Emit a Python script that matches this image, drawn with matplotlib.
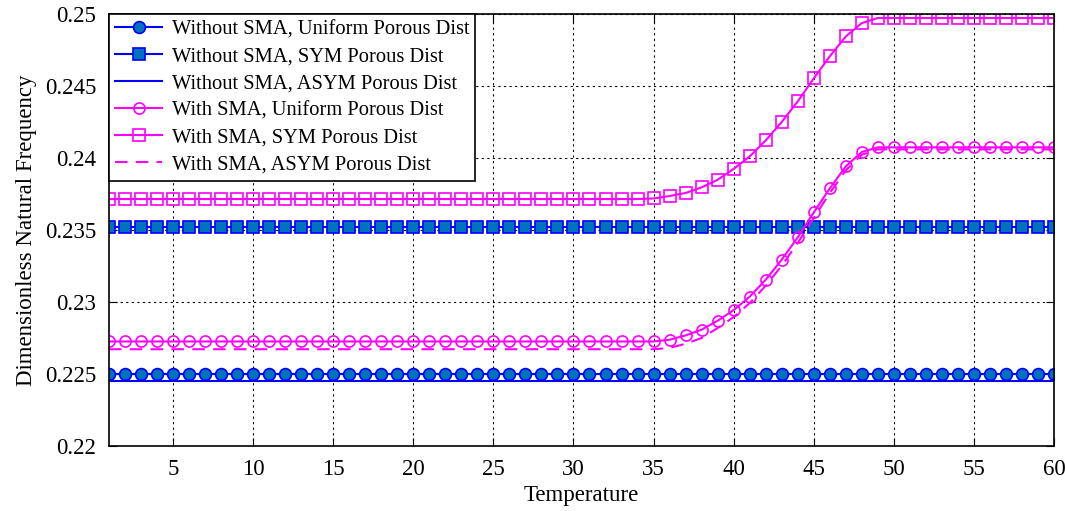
import matplotlib.pyplot as plt
import numpy as np

plt.rcParams['font.family'] = ['Liberation Serif', 'DejaVu Serif']
plt.rcParams['mathtext.fontset'] = 'stix'

# temperature steps
temp = np.arange(1, 61)

# without SMA: flat values
wo_uniform = [0.22500] * 60
wo_sym = [0.23518] * 60
wo_asym = [0.22451] * 60

# with SMA: flat until 35, then rises to a plateau at ~49
rise_uniform = [0.22726, 0.22738, 0.22768, 0.22808, 0.22870, 0.22944, 0.23037,
                0.23155, 0.23294, 0.23449, 0.23622, 0.23789, 0.23942, 0.24042]
rise_sym = [0.23719, 0.23736, 0.23757, 0.23796, 0.23849, 0.23924, 0.24011,
            0.24122, 0.24250, 0.24393, 0.24553, 0.24706, 0.24844, 0.24937]
rise_asym = [0.22672, 0.22681, 0.22710, 0.22750, 0.22819, 0.22895, 0.22993,
             0.23113, 0.23252, 0.23410, 0.23583, 0.23757, 0.23914, 0.24023]

w_uniform = [0.22726] * 34 + rise_uniform + [0.24074] * 12
w_sym = [0.23715] * 34 + rise_sym + [0.24972] * 12
w_asym = [0.22672] * 34 + rise_asym + [0.24060] * 12

blue = '#0000ff'
face = '#0072bd'
mag = '#ff00ff'

fig = plt.figure(figsize=(10.65, 5.11), dpi=100)
ax = fig.add_axes([0.1023, 0.1272, 0.8874, 0.8454])

ax.plot(temp, wo_uniform, '-o', color=blue, mfc=face, mec=blue, ms=8.5, lw=1.5,
        mew=1.2, label='Without SMA, Uniform Porous Dist')
ax.plot(temp, wo_sym, '-s', color=blue, mfc=face, mec=blue, ms=8.5, lw=1.5,
        mew=1.2, label='Without SMA, SYM Porous Dist')
ax.plot(temp, wo_asym, '-', color=blue, lw=1.5, label='Without SMA, ASYM Porous Dist')
ax.plot(temp, w_uniform, '-o', color=mag, mfc='none', mec=mag, ms=8, lw=1.5,
        mew=1.2, label='With SMA, Uniform Porous Dist')
ax.plot(temp, w_sym, '-s', color=mag, mfc='none', mec=mag, ms=8, lw=1.5,
        mew=1.2, label='With SMA, SYM Porous Dist')
ax.plot(temp, w_asym, '--', color=mag, lw=1.5, dashes=(6, 4),
        label='With SMA, ASYM Porous Dist')

ax.set_xlim(1, 60)
ax.set_ylim(0.22, 0.25)
ax.set_xticks(np.arange(5, 61, 5))
ax.set_yticks([0.22, 0.225, 0.23, 0.235, 0.24, 0.245, 0.25])
ax.set_yticklabels(['0.22', '0.225', '0.23', '0.235', '0.24', '0.245', '0.25'])
ax.tick_params(direction='in', top=True, right=True, labelsize=16.5, length=6,
               pad=9)
ax.grid(True, color='black', linestyle=(0, (2, 3)), linewidth=0.8)
for s in ax.spines.values():
    s.set_linewidth(1.2)

ax.set_xlabel('Temperature', fontsize=16.5, labelpad=4)
ax.set_ylabel('Dimensionless Natural Frequency', fontsize=16.5, labelpad=6)

leg = ax.legend(loc='upper left', fontsize=14.8, frameon=True, fancybox=False,
                edgecolor='black', framealpha=1, borderaxespad=0,
                handlelength=2.3, labelspacing=0.37, borderpad=0.3,
                handletextpad=0.45)
leg.get_frame().set_linewidth(1.2)

fig.savefig('out.png', dpi=100)
